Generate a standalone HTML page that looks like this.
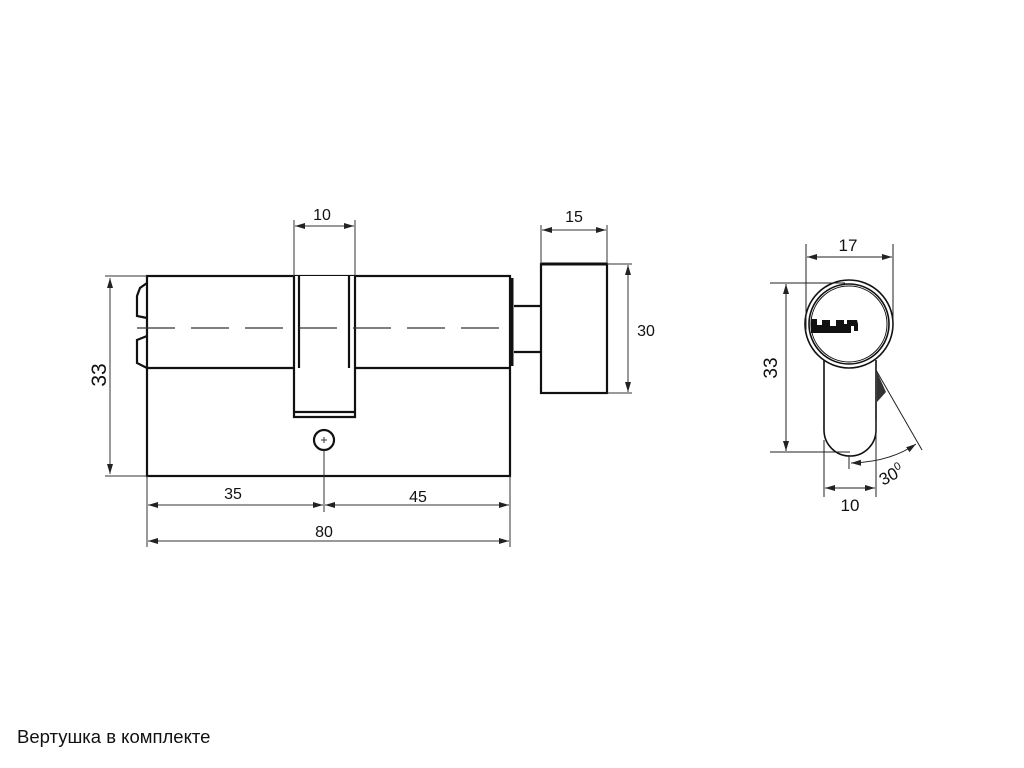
<!DOCTYPE html>
<html><head><meta charset="utf-8"><style>
body{margin:0;background:#fff;width:1024px;height:768px;overflow:hidden;position:relative;font-family:"Liberation Sans","DejaVu Sans",sans-serif}
.cap{position:absolute;left:17px;top:726px;font-size:18.5px;color:#111}
</style></head><body>
<svg width="1024" height="768" style="position:absolute;left:0;top:0" font-family="Liberation Sans, DejaVu Sans, sans-serif">
<defs>
<marker id="a" viewBox="0 0 10 6" refX="10" refY="3" markerWidth="10" markerHeight="6" orient="auto-start-reverse" markerUnits="userSpaceOnUse"><path d="M0,0L10,3L0,6z" fill="#222"/></marker>
</defs>
<g fill="none" stroke="#111" stroke-width="2.2">
<rect x="147" y="276" width="363" height="200"/>
<line x1="147" y1="368" x2="510" y2="368"/>
<path d="M294,276V417H355V276" fill="#fff"/>
<path d="M299,276V368 M349,276V368 M294,412H355"/>
<circle cx="324" cy="440" r="10"/>
<path d="M147,283 L140,288 L137,296 L137,316 L147,318 M147,336 L137,340 L137,363 L147,368"/>
<path d="M512,278V366" stroke-width="3"/>
<path d="M514,306H541M514,352H541"/>
<rect x="541" y="264" width="66" height="129" fill="#fff"/>
<line x1="541" y1="264" x2="607" y2="264" stroke-width="3"/>
</g>
<line x1="137" y1="328" x2="510" y2="328" stroke="#333" stroke-width="1.2" stroke-dasharray="38,16"/>
<g stroke="#333" stroke-width="1" fill="none">
<path d="M324,437V443M321,440H327"/>
<path d="M105,276H147M105,476H147"/>
<line x1="110" y1="278" x2="110" y2="474" marker-start="url(#a)" marker-end="url(#a)"/>
<path d="M294,220V276M355,220V276"/>
<line x1="295" y1="226" x2="354" y2="226" marker-start="url(#a)" marker-end="url(#a)"/>
<path d="M541,225V264M607,225V264"/>
<line x1="542" y1="230" x2="606" y2="230" marker-start="url(#a)" marker-end="url(#a)"/>
<path d="M607,264H632M607,393H632"/>
<line x1="628" y1="265" x2="628" y2="392" marker-start="url(#a)" marker-end="url(#a)"/>
<path d="M147,476V547M510,476V547M324,450V512"/>
<line x1="148" y1="505" x2="323" y2="505" marker-start="url(#a)" marker-end="url(#a)"/>
<line x1="325" y1="505" x2="509" y2="505" marker-start="url(#a)" marker-end="url(#a)"/>
<line x1="148" y1="541" x2="509" y2="541" marker-start="url(#a)" marker-end="url(#a)"/>
</g>
<g font-size="16" fill="#111" text-anchor="middle">
<text x="322" y="220">10</text>
<text x="574" y="222">15</text>
<text x="646" y="336">30</text>
<text x="233" y="499">35</text>
<text x="418" y="502">45</text>
<text x="324" y="537">80</text>
<text transform="translate(106,375) rotate(-90)" font-size="21">33</text>
</g>
<g fill="none" stroke="#111" stroke-width="1.6">
<path d="M824,360V430A26,26 0 0 0 876,430V360"/>
<circle cx="849" cy="324" r="44" fill="#fff"/>
<circle cx="849" cy="324" r="40"/>
<circle cx="849" cy="324" r="38" stroke-width="1"/>
</g>
<path d="M811,333L811,319L817,319L817,325L822,325L822,320L830,320L830,326L836,326L836,320L844,320L844,324L847,324L847,320L857,320L858,324L858,331L854,331L854,326L851,326L851,333Z" fill="#111"/>
<path d="M877,372L877,402L886,392Z" fill="#333"/>
<g stroke="#222" stroke-width="1" fill="none">
<path d="M806,244V330M893,244V330"/>
<line x1="807" y1="257" x2="892" y2="257" marker-start="url(#a)" marker-end="url(#a)"/>
<path d="M770,283H845M770,452H850"/>
<line x1="786" y1="284" x2="786" y2="451" marker-start="url(#a)" marker-end="url(#a)"/>
<path d="M824,440V497M876,420V497"/>
<line x1="825" y1="488" x2="875" y2="488" marker-start="url(#a)" marker-end="url(#a)"/>
<path d="M876,370L922,450M849,455V469"/>
<path d="M851,463 Q890,462 916,444" marker-start="url(#a)" marker-end="url(#a)"/>
</g>
<g font-size="17" fill="#111" text-anchor="middle">
<text x="848" y="251">17</text>
<text x="850" y="511">10</text>
<text transform="translate(777,368) rotate(-90)" font-size="19">33</text>
<text transform="translate(894,480) rotate(-28)">30<tspan font-size="11" dy="-7">0</tspan></text>
</g>
</svg>
<div class="cap">Вертушка в комплекте</div>
</body></html>
